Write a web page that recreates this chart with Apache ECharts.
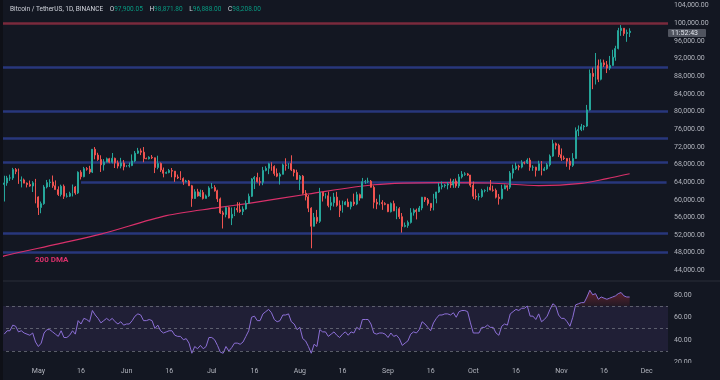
<!DOCTYPE html>
<html><head><meta charset="utf-8">
<script src="https://cdn.jsdelivr.net/npm/echarts@6/dist/echarts.min.js"></script>
<style>html,body{margin:0;padding:0;background:#131722;}#c{width:720px;height:380px;}</style>
</head><body><div id="c"></div>
<script>
// ---------- categories (one per day, Apr 18 2024 .. Dec 8 2024) ----------
const startDay = Date.UTC(2024, 3, 18);
const dayCount = 235;
const monthNames = ['Jan','Feb','Mar','Apr','May','Jun','Jul','Aug','Sep','Oct','Nov','Dec'];
const categories = [];
for (let i = 0; i < dayCount; i++) {
  categories.push(new Date(startDay + i * 86400000).toISOString().slice(0, 10));
}
const firstBarIndex = 1; // Apr 19

// ---------- daily candles [open, high, low, close], Apr 19 .. Nov 25 ----------
const ohlc = [
 // Apr 19-30
 [63470,65450,59600,63810],[63810,65420,63170,64940],[64940,65700,64280,64940],[64940,67230,64500,66840],
 [66840,67200,65800,66410],[66410,67070,63600,64280],[64280,65290,62800,64500],[64500,64800,63780,63770],
 [63770,63920,62790,63460],[63460,64360,62950,63120],[63120,64230,61760,63840],[63840,64730,59190,60640],
 // May
 [60640,60780,56550,58250],[58250,59600,56940,59120],[59120,63320,58850,62890],[62890,64490,62580,63890],
 [63890,64640,62900,64030],[64030,65500,62700,63160],[63160,64390,62280,62310],[62310,63040,60870,61190],
 [61190,63420,60750,63070],[63070,63460,60190,60790],[60790,61490,60490,60820],[60820,61820,60630,61450],
 [61450,63450,60750,62900],[62900,63100,61130,61550],[61550,66440,61320,66250],[66250,66700,64600,65230],
 [65230,67450,65100,67050],[67050,67400,66600,66940],[66940,67700,65860,66270],[66270,71500,66060,71450],
 [71450,71950,69160,70140],[70140,70650,68830,69120],[69120,70080,66300,67930],[67930,69220,66620,68530],
 [68530,69570,68480,69290],[69290,69500,68280,68510],[68510,70600,68230,69400],[69400,69550,67200,68370],
 [68370,68920,67100,67630],[67630,69500,67120,68350],[68350,69000,66670,67490],
 // Jun
 [67490,67860,67390,67700],[67700,68440,67300,67750],[67750,70280,67620,68800],[68800,71060,68500,70560],
 [70560,71760,70380,71080],[71080,71630,70120,70780],[70780,71950,68500,69340],[69340,69560,69210,69300],
 [69300,69860,69130,69650],[69650,70150,69230,69510],[69510,69560,66050,67320],[67320,69990,66900,68240],
 [68240,68440,66300,66750],[66750,67300,65080,66010],[66010,66400,65870,66190],[66190,66980,66000,66640],
 [66640,67200,65100,66490],[66490,66490,64060,65150],[65150,65720,64690,64960],[64960,66480,64500,64830],
 [64830,65070,63380,64090],[64090,64520,63940,64250],[64250,64490,63180,63180],[63180,63370,58400,60280],
 [60280,62400,60220,61800],[61800,62480,60710,60860],[60860,62300,60620,61670],[61670,62200,60060,60310],
 [60310,61200,60300,60880],[60880,63060,60650,62680],
 // Jul
 [62680,63800,62540,62770],[62770,63300,61850,62020],[62020,62280,59500,60200],[60200,60500,56800,57040],
 [57040,57500,53480,56640],[56640,58470,56020,58230],[58230,58440,55790,55850],[55850,58250,54260,56700],
 [56700,58300,56300,58040],[58040,59450,57150,57720],[57720,59400,57040,57330],[57330,58500,56530,57900],
 [57900,59850,57750,59200],[59200,61400,59200,60790],[60790,64900,60630,64720],[64720,65380,62430,65040],
 [65040,66120,63900,64090],[64090,65100,63210,63980],[63980,67450,63300,66660],[66660,67600,66440,67130],
 [67130,68380,65800,68160],[68160,68480,66570,67560],[67560,67810,65450,65930],[65930,67100,65120,65350],
 [65350,66150,63450,65770],[65770,68200,65750,67900],[67900,69400,66600,67800],[67800,68300,67000,68240],
 [68240,70080,66500,66780],[66780,66990,65300,66180],[66180,66800,64520,64610],
 // Aug
 [64610,65600,62200,65350],[65350,65600,61200,61480],[61480,62200,59850,60680],[60680,61100,57200,58100],
 [58100,58300,49000,53990],[53990,57000,53950,56030],[56030,57700,54550,55120],[55120,62700,54750,61700],
 [61700,61750,59600,60860],[60860,61470,60260,60900],[60900,61850,58290,58700],[58700,60700,57630,59350],
 [59350,61570,58450,60600],[60600,61800,58430,58740],[58740,59850,56080,57560],[57560,59800,57090,58870],
 [58870,59690,58790,59480],[59480,60270,58420,58430],[58430,59600,57820,59480],[59480,61400,58600,59030],
 [59030,61800,58780,61160],[61160,61400,59800,60380],[60380,64950,60350,64090],[64090,64500,63600,64170],
 [64170,65000,63800,64220],[64220,64480,62800,62830],[62830,63240,58030,59420],[59420,60230,57860,59030],
 [59030,61170,58750,59370],[59370,59900,57710,59120],[59120,59450,58760,58970],
 // Sep
 [58970,59060,57200,57300],[57300,59400,57120,59130],[59130,59800,57420,57490],[57490,58500,55600,57970],
 [57970,58320,55650,56160],[56160,56990,52550,53960],[53960,54850,53750,54160],[54160,55300,53650,54870],
 [54870,58100,54600,57040],[57040,58040,56400,57650],[57650,57990,55550,57340],[57340,58600,57330,58130],
 [58130,60650,57630,60570],[60570,60650,59500,60000],[60000,60400,58700,59180],[59180,59200,57490,58210],
 [58210,61350,57600,60310],[60310,61800,59200,61760],[61760,63850,61560,62950],[62950,64130,62350,63200],
 [63200,63560,62750,63350],[63350,64000,62350,63580],[63580,64800,62700,63340],[63340,64690,62700,64260],
 [64260,64820,62700,63140],[63140,65830,62670,65180],[65180,66500,64820,65770],[65770,66250,65430,65860],
 [65860,66080,65420,65600],[65600,65620,62850,63300],
 // Oct
 [63300,64130,60170,60800],[60800,62390,59990,60650],[60650,61470,59830,60750],[60750,62480,60460,62080],
 [62080,62370,61680,62090],[62090,62980,61820,62820],[62820,64480,62130,62220],[62220,63200,61830,62130],
 [62130,62540,60300,60580],[60580,61320,58900,60270],[60270,63400,60050,62440],[62440,63480,62440,63190],
 [63190,63280,62050,62850],[62850,66500,62430,66050],[66050,67950,64800,67040],[67040,68420,66750,67610],
 [67610,67940,66670,67400],[67400,68970,67120,68420],[68420,68690,68030,68360],[68360,69400,68100,69000],
 [69000,69500,66570,67370],[67370,67830,66560,67380],[67380,67470,65260,66680],[66680,68850,66550,68160],
 [68160,68770,65520,66640],[66640,67450,66500,67010],[67010,68340,66800,67930],[67930,70270,67540,69900],
 [69900,73620,69730,72720],[72720,72980,71420,72340],[72340,72700,69680,70220],
 // Nov 1-25
 [70220,71630,68820,69480],[69480,70000,69020,69360],[69360,69390,67480,68740],[68740,69500,66800,67810],
 [67810,70570,67450,69360],[69360,76400,69300,75640],[75640,76850,74420,75900],[75900,77200,75560,76540],
 [76540,76950,75750,76700],[76700,81500,76490,80370],[80370,89530,80220,88650],[88650,89940,85070,87950],
 [87950,93270,86130,90380],[90380,91780,86670,87320],[87320,91850,87070,91030],[91030,91760,90100,90580],
 [90580,91460,88720,89850],[89850,92600,89380,90460],[90460,94000,90380,92310],[92310,94900,91500,94290],
 [94290,98970,94080,98350],[98350,99590,97150,98890],[98890,98900,97150,97670],[97670,98570,95800,97900],
 [97900,98872,96888,98208]
];

const rsiValues = [
 45,48,48,53,52,47,48,46,45,44,46,38,
 34,37,46,49,49,47,45,43,48,42,42,44,48,45,57,54,59,58,56,66,62,59,55,57,59,57,59,56,54,56,53,
 54,54,57,61,63,62,57,57,58,57,50,53,48,46,47,48,48,44,43,43,40,41,37,28,34,32,35,32,34,42,
 42,40,35,29,28,34,30,33,37,37,36,38,43,48,60,61,57,57,63,65,67,64,58,56,57,62,62,63,56,54,49,
 51,41,39,34,28,36,34,49,47,47,43,45,47,44,42,45,47,44,47,46,51,49,58,58,58,54,46,45,46,46,45,
 42,46,43,44,41,35,37,39,45,47,46,49,56,54,51,48,55,59,62,62,63,63,62,64,60,65,66,66,65,55,
 46,46,46,51,51,53,51,51,46,44,52,54,53,63,65,67,66,68,68,70,61,61,58,63,56,58,61,67,72,70,62,
 59,59,56,52,60,71,72,73,73,78,84,80,81,76,78,77,76,77,78,79,81,82,79,78,78
];

// ---------- 200-day moving average at a few days ----------
const dmaPoints = [
 [0,47000],[1,47300],[20,50000],[35,52200],[58,56400],[76,58200],[87,59200],[108,61300],
 [131,63400],[154,63900],[172,63800],[189,63200],[204,63700],[213,64800],[221,65900]
];

// ---------- horizontal levels ----------
const resistanceLevel = 100000;
const supportLevels = [90000, 80000, 74000, 68500, 52500, 48000];
const partialLevel = { value: 64000, fromIndex: 28 };

const header = { o: '97,900.05', h: '98,871.80', l: '96,888.00', c: '98,208.00' };

// ---------- styling ----------
const BG = '#131722';
const UP = '#26a69a', DOWN = '#ef5350';
const LEVEL_BLUE = '#28377c', LEVEL_RED = '#7a2a3c';
const TXT = '#b2b5be';
const FONT = 'Roboto, sans-serif';

const candleData = ohlc.map((r, i) => [i + firstBarIndex, r[0], r[3], r[2], r[1]]);
const rsiData = rsiValues.map((v, i) => [i + firstBarIndex, v]);
const obData = rsiValues.map((v, i) => [i + firstBarIndex, Math.max(v, 70)]);

const levelLines = [
  { yAxis: resistanceLevel, lineStyle: { color: LEVEL_RED, width: 2.5, type: 'solid' } },
  ...supportLevels.map(v => ({ yAxis: v, lineStyle: { color: LEVEL_BLUE, width: 2.5, type: 'solid' } })),
  [
    { coord: [partialLevel.fromIndex, partialLevel.value], lineStyle: { color: LEVEL_BLUE, width: 2.5, type: 'solid' } },
    { coord: [dayCount - 1, partialLevel.value] }
  ]
];

const chart = echarts.init(document.getElementById('c'), null, { renderer: 'canvas' });
chart.setOption({
  backgroundColor: BG,
  animation: false,
  textStyle: { fontFamily: FONT },
  grid: [
    { left: 0, right: 52, top: -12, height: 300, outerBoundsMode: 'none', containLabel: false },
    { left: 0, right: 52, top: 272.25, height: 90, outerBoundsMode: 'none', containLabel: false }
  ],
  xAxis: [
    { type: 'category', gridIndex: 0, data: categories, boundaryGap: true,
      axisLine: { show: false }, axisTick: { show: false }, axisLabel: { show: false }, splitLine: { show: false } },
    { type: 'category', gridIndex: 1, data: categories, boundaryGap: true, z: 10,
      axisLine: { show: false }, axisTick: { show: false }, splitLine: { show: false },
      axisLabel: {
        color: TXT, fontSize: 7, margin: 5, fontFamily: FONT,
        interval: (idx, val) => { const d = val.slice(8, 10); return d === '01' || d === '16'; },
        formatter: val => { const d = val.slice(8, 10); return d === '01' ? monthNames[+val.slice(5, 7) - 1] : '16'; }
      } }
  ],
  yAxis: [
    { type: 'value', gridIndex: 0, position: 'right', min: 40000, max: 108000, interval: 4000,
      axisLine: { show: false }, axisTick: { show: false }, splitLine: { show: false },
      axisLabel: { color: TXT, fontSize: 7, margin: 6, fontFamily: FONT, showMinLabel: false, showMaxLabel: false,
        formatter: v => v.toLocaleString('en-US', { minimumFractionDigits: 2, maximumFractionDigits: 2 }) } },
    { type: 'value', gridIndex: 1, position: 'right', min: 20, max: 100, interval: 20,
      axisLine: { show: false }, axisTick: { show: false }, splitLine: { show: false },
      axisLabel: { color: TXT, fontSize: 7, margin: 6, fontFamily: FONT, showMaxLabel: false,
        formatter: v => v.toFixed(2) } }
  ],
  series: [
    { type: 'candlestick', xAxisIndex: 0, yAxisIndex: 0, data: candleData,
      encode: { x: 0, y: [1, 2, 3, 4] }, barMaxWidth: 2.2, z: 5,
      itemStyle: { color: UP, color0: DOWN, borderColor: UP, borderColor0: DOWN, borderWidth: 1 },
      markLine: { silent: true, symbol: ['none', 'none'], label: { show: false }, z: 1, data: levelLines } },
    { type: 'line', xAxisIndex: 0, yAxisIndex: 0, data: dmaPoints, smooth: 0.3, symbol: 'none', z: 4,
      lineStyle: { color: '#d9306a', width: 1.2 } },
    { type: 'line', xAxisIndex: 1, yAxisIndex: 1, data: obData, symbol: 'none', z: 3,
      lineStyle: { width: 0, opacity: 0 },
      areaStyle: { origin: 70, color: new echarts.graphic.LinearGradient(0, 0, 0, 1, [
        { offset: 0, color: 'rgba(242,54,69,0.5)' }, { offset: 1, color: 'rgba(242,54,69,0.1)' }]) } },
    { type: 'line', xAxisIndex: 1, yAxisIndex: 1, data: rsiData, symbol: 'none', z: 4,
      lineStyle: { color: '#8c6fd6', width: 1 },
      markArea: { silent: true, itemStyle: { color: 'rgba(126,87,194,0.13)' }, data: [[{ yAxis: 30 }, { yAxis: 70 }]] },
      markLine: { silent: true, symbol: ['none', 'none'], label: { show: false },
        lineStyle: { color: 'rgba(120,123,134,0.7)', width: 1, type: [3, 3] },
        data: [{ yAxis: 70 }, { yAxis: 50 }, { yAxis: 30 }] } }
  ],
  graphic: [
    { type: 'rect', z: 50, shape: { x: 668, y: 363, width: 52, height: 17 }, style: { fill: BG } },
    { type: 'line', z: 50, shape: { x1: 0, y1: 281, x2: 720, y2: 281 }, style: { stroke: '#2a2e39', lineWidth: 1 } },
    { type: 'rect', z: 50, shape: { x: 0, y: 0, width: 3, height: 380 }, style: { fill: '#0e1017' } },
    { type: 'text', z: 60, left: 10, top: 3, style: {
        text: '{t|Bitcoin / TetherUS, 1D, BINANCE}  {k|O}{v|' + header.o + '}  {k|H}{v|' + header.h + '}  {k|L}{v|' + header.l + '}  {k|C}{v|' + header.c + '}',
        rich: {
          t: { fill: '#d1d4dc', fontSize: 6.5, fontFamily: FONT },
          k: { fill: '#d1d4dc', fontSize: 6.5, fontFamily: FONT },
          v: { fill: '#089981', fontSize: 6.5, fontFamily: FONT }
        } } },
    { type: 'text', z: 60, left: 35, top: 256, style: { text: '200 DMA', fill: '#d9306a', fontSize: 8, fontWeight: 'bold', fontFamily: FONT } },
    { type: 'rect', z: 60, shape: { x: 668, y: 29, width: 38, height: 8, r: 1 }, style: { fill: '#50545f' } },
    { type: 'text', z: 61, left: 671, top: 29.5, style: { text: '11:52:43', fill: '#e0e3eb', fontSize: 7, fontFamily: FONT } }
  ]
});
</script></body></html>
